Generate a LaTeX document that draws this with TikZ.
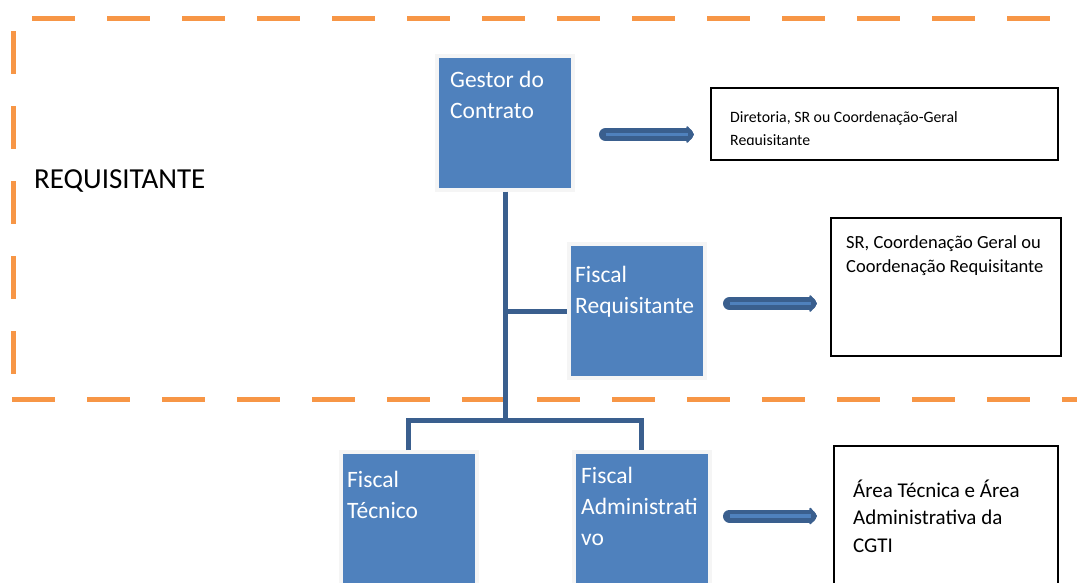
\documentclass[tikz,border=0pt]{standalone}
\usepackage{fontspec}
\setmainfont{Carlito}
\usetikzlibrary{arrows.meta}
\definecolor{mblue}{HTML}{4F81BD}
\definecolor{mdark}{HTML}{3A5F8E}
\definecolor{morange}{HTML}{F79646}
\definecolor{mgray}{HTML}{F5F5F5}
\tikzset{bbox/.style = {fill=mblue, draw=mgray, line width=4, inner sep=0,
                        minimum width=136, minimum height=134}}
\tikzset{btext/.style = {anchor=base west, inner sep=0, align=left, text=white,
                         font=\fontsize{23.5}{31}\selectfont}}
\tikzset{wbox/.style = {draw=black, line width=1.6, inner sep=0}}
\tikzset{wtext/.style = {anchor=base west, inner sep=0, align=left}}
\tikzset{tree/.style = {draw=mdark, line width=5}}
\tikzset{blk/.style = {draw=mdark, line width=13, line cap=round,
                       -{Triangle[round, length=8, width=20]}}}
\tikzset{blkin/.style = {draw=mblue, line width=3.5, shorten >=6}}
\tikzset{orng/.style = {draw=morange, line width=5, dash pattern=on 43 off 32}}

\begin{document}
\begin{tikzpicture}[x=1pt, y=-1pt]
    \useasboundingbox (0, 0) rectangle (1077, 582);

    % requisitante area
    \draw [orng] (32, 18) -- (1050, 18);
    \draw [orng] (13, 31) -- (13, 374);
    \draw [orng] (12, 399) -- (1080, 399);
    \node [anchor=base west, inner sep=0, font=\fontsize{29}{34}\selectfont] (req) at (34, 188) {REQUISITANTE};

    % blue boxes (text anchored at baseline of last line)
    \node [bbox] (gestor) at (505, 122.5) {};
    \node [btext] (gestor-t) at (450, 118) {Gestor do\\Contrato};
    \node [bbox] (fisreq) at (637, 311) {};
    \node [btext] (fisreq-t) at (575, 313) {Fiscal\\Requisitante};
    \node [bbox] (fistec) at (408.5, 519) {};
    \node [btext] (fistec-t) at (347, 518) {Fiscal\\Técnico};
    \node [bbox] (fisadm) at (641.5, 519) {};
    \node [btext] (fisadm-t) at (581, 545) {Fiscal\\Administrati\\vo};

    % tree
    \coordinate (junc) at (505, 420);
    \draw [tree] (gestor.south) -- (junc);
    \draw [tree] (gestor.south |- fisreq.west) -- (fisreq.west);
    \draw [tree] (fistec.north) |- (junc) -| (fisadm.north);

    % white boxes
    \node [wbox, minimum width=347, minimum height=72] (dir) at (884.5, 124) {};
    \begin{scope}
      \clip (711, 88) rectangle (1058, 144.5);
      \node [wtext, font=\fontsize{15.8}{22.5}\selectfont] (dir-t) at (730, 145) {Diretoria, SR ou Coordenação-Geral\\Requisitante};
    \end{scope}
    \node [wbox, minimum width=230, minimum height=138] (sr) at (946, 287) {};
    \node [wtext, font=\fontsize{18.5}{24}\selectfont] (sr-t) at (846, 272) {SR, Coordenação Geral ou\\Coordenação Requisitante};
    \node [wbox, minimum width=224, minimum height=150] (cgti) at (946, 521) {};
    \node [wtext, font=\fontsize{21}{27.5}\selectfont] (cgti-t) at (853, 552) {Área Técnica e Área\\Administrativa da\\CGTI};

    % block arrows
    \foreach \xa/\xb/\y [count=\i] in {605.5/694/134.5, 729.5/817/303.5, 729.5/817/516} {
      \coordinate (s\i) at (\xa, \y);
      \coordinate (e\i) at (\xb, \y);
      \draw [blk] (s\i) -- (e\i);
      \draw [blkin] (s\i) -- (e\i);
    }
\end{tikzpicture}
\end{document}
